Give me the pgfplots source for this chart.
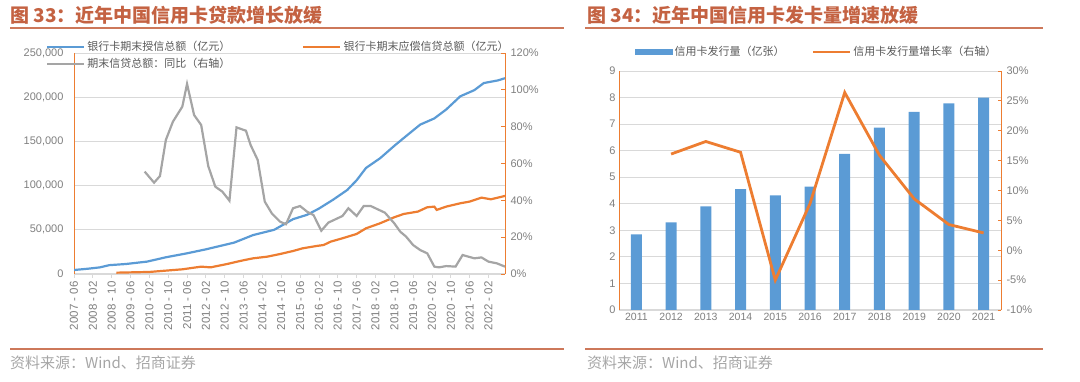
\documentclass[border=0pt]{standalone}
\usepackage{fontspec}
\setmainfont{Liberation Sans}
\newfontfamily\cjk{Noto Sans CJK SC}
\usepackage{pgfplots}
\pgfplotsset{compat=1.18}
\definecolor{cblue}{RGB}{91,155,213}
\definecolor{corange}{RGB}{237,125,49}
\definecolor{cgray}{RGB}{165,165,165}
\definecolor{titlecol}{RGB}{196,98,66}
\definecolor{rulecol}{RGB}{205,120,90}
\definecolor{tickcol}{RGB}{127,127,127}
\definecolor{legcol}{RGB}{89,89,89}
\definecolor{gridcol}{RGB}{217,217,217}
\definecolor{srccol}{RGB}{166,166,166}
\begin{document}
\begin{tikzpicture}
\path[use as bounding box] (0pt,0pt) rectangle (1080pt,382pt);
% titles and rules
\node[anchor=west, inner sep=0, text=titlecol, font=\fontsize{19}{22}\selectfont\cjk\bfseries] at (10pt,367pt) {图 33：近年中国信用卡贷款增长放缓};
\node[anchor=west, inner sep=0, text=titlecol, font=\fontsize{19}{22}\selectfont\cjk\bfseries] at (587pt,367pt) {图 34：近年中国信用卡发卡量增速放缓};
\draw[rulecol, line width=2pt] (10pt,354pt) -- (564pt,354pt);
\draw[rulecol, line width=2pt] (585pt,354pt) -- (1043pt,354pt);
\draw[rulecol, line width=1.5pt] (10pt,33pt) -- (564pt,33pt);
\draw[rulecol, line width=1.5pt] (585pt,33pt) -- (1043pt,33pt);
\node[anchor=west, inner sep=0, text=srccol, font=\fontsize{15}{18}\selectfont\cjk] at (10pt,19.5pt) {资料来源：Wind、招商证券};
\node[anchor=west, inner sep=0, text=srccol, font=\fontsize{15}{18}\selectfont\cjk] at (587pt,19.5pt) {资料来源：Wind、招商证券};

\pgfplotsset{
  every axis/.append style={
    scale only axis,
    /pgf/number format/assume math mode=true,
    tick label style={font=\fontsize{11}{13}\selectfont, text=tickcol},
  },
}

% ===== left chart =====
\begin{axis}[
  at={(74pt,108pt)}, anchor=south west, width=431pt, height=221pt,
  xmin=0, xmax=183, ymin=0, ymax=250000,
  axis x line*=bottom, axis y line*=left,
  x axis line style={draw=gridcol, line width=1pt, -},
  y axis line style={draw=corange, line width=1pt, -},
  xtick={0,8,...,176},
  xticklabels={2007 - 06,2008 - 02,2008 - 10,2009 - 06,2010 - 02,2010 - 10,2011 - 06,2012 - 02,2012 - 10,2013 - 06,2014 - 02,2014 - 10,2015 - 06,2016 - 02,2016 - 10,2017 - 06,2018 - 02,2018 - 10,2019 - 06,2020 - 02,2020 - 10,2021 - 06,2022 - 02},
  xticklabel style={rotate=90, anchor=east, font=\fontsize{11.5}{13}\selectfont},
  xtick style={draw=gridcol, line width=0.8pt},
  tick align=outside, major tick length=4pt,
  ytick={0,50000,...,250000},
  ytick style={draw=none},
  scaled y ticks=false,
  yticklabel style={/pgf/number format/fixed, /pgf/number format/1000 sep={,}, xshift=-3pt},
  ymajorgrids, major grid style={draw=gridcol, line width=0.8pt},
]
\addplot[cblue, line width=2.2pt] coordinates {
(0,4500) (6,6000) (11,7500) (15,10000) (22,11300) (31,14000) (39,18900) (48,23400)
(56,27900) (62,31700) (68,35500) (76,44000) (85,50000) (93,62000) (99,67000) (104,74000)
(110,84000) (116,95000) (120,106000) (124,120000) (130,131000) (136,145000) (141,156000)
(147,169000) (153,176000) (158,186000) (164,201000) (170,208000) (174,216000) (180,219000) (183,221500)};
\addplot[corange, line width=2.2pt] coordinates {
(18,1500) (32,2300) (39,3800) (46,5300) (54,8300) (58,7500) (65,11300) (71,15000)
(76,17700) (82,19600) (87,22300) (93,26000) (97,29000) (103,31700) (106,32800) (109,36600)
(114,40400) (120,45300) (124,51700) (130,57400) (136,64200) (140,67900) (146,70600)
(150,75500) (153,76200) (154,72500) (158,76200) (164,80000) (168,81900) (173,86400) (177,84500) (183,88300)};
\end{axis}
\begin{axis}[
  at={(74pt,108pt)}, anchor=south west, width=431pt, height=221pt,
  xmin=0, xmax=183, ymin=0, ymax=120,
  axis x line=none, axis y line*=right,
  y axis line style={draw=corange, line width=1pt, -},
  ytick={0,20,...,120},
  yticklabel={\pgfmathprintnumber{\tick}\%},
  ytick style={draw=corange, line width=0.8pt},
  tick align=inside, major tick length=4pt,
  yticklabel style={xshift=2pt},
  legend style={at={(axis description cs:-0.065,1.063)}, anchor=north west, draw=none, fill=none,
    font=\fontsize{11}{13}\selectfont\cjk, text=legcol, inner sep=0pt,
    /tikz/every even column/.append style={column sep=70pt}, row sep=2pt},
  legend columns=2, legend cell align=left,
  legend image code/.code={\draw[#1] (0pt,0pt) -- (37pt,0pt);},
]
\addlegendimage{cblue, line width=2.2pt}
\addlegendentry{银行卡期末授信总额（亿元）}
\addlegendimage{corange, line width=2.2pt}
\addlegendentry{银行卡期末应偿信贷总额（亿元）}
\addplot[cgray, line width=2.2pt] coordinates {
(30,55.6) (34,49.6) (36.5,53.2) (39,72.8) (42,82.7) (46,90.9) (48,103.2) (51,86.3)
(54,80.9) (57,58.6) (60,47.4) (63,44.7) (66,39.8) (69,79.6) (73,77.8) (75,70) (78,61.9)
(81,39.3) (84,32.9) (87.5,28.4) (90,27) (93,35.7) (96,36.9) (99,33.8) (101.7,32) (105,23.5)
(108,27.9) (111,29.7) (114,31.5) (116.5,35.7) (120,31.5) (123,36.9) (126,36.9) (129,35.1)
(132,33.3) (136,27.5) (138.5,23) (141,20.3) (144,15.7) (147,13) (150,11.2) (153,4) (155,3.6)
(158,4.3) (162,4) (165,10.3) (167.5,9.4) (170,8.5) (173,9) (176,6.7) (179.5,5.8) (183,4)};
\addlegendentry{期末信贷总额：同比（右轴）}
\end{axis}

% ===== right chart =====
\begin{axis}[
  at={(619pt,72pt)}, anchor=south west, width=382pt, height=239pt,
  xmin=-0.5, xmax=10.5, ymin=0, ymax=9,
  axis x line*=bottom, axis y line*=left,
  x axis line style={draw=gridcol, line width=1pt, -},
  y axis line style={draw=corange, line width=1pt, -},
  xtick={0,...,10},
  xticklabels={2011,2012,2013,2014,2015,2016,2017,2018,2019,2020,2021},
  xticklabel style={font=\fontsize{10.5}{12}\selectfont},
  ytick={0,...,9},
  tick style={draw=none},
  ymajorgrids, major grid style={draw=gridcol, line width=0.8pt},
]
\addplot[ybar, bar width=11pt, fill=cblue, draw=none] coordinates {
(0,2.85) (1,3.3) (2,3.9) (3,4.55) (4,4.32) (5,4.65) (6,5.88) (7,6.87) (8,7.46) (9,7.78) (10,8.0)};
\end{axis}
\begin{axis}[
  at={(619pt,72pt)}, anchor=south west, width=382pt, height=239pt,
  xmin=-0.5, xmax=10.5, ymin=-10, ymax=30,
  axis x line=none, axis y line*=right,
  y axis line style={draw=corange, line width=1pt, -},
  ytick={-10,-5,...,30},
  yticklabel={\pgfmathprintnumber{\tick}\%},
  ytick style={draw=corange, line width=0.8pt},
  tick align=inside, major tick length=3pt,
  yticklabel style={xshift=2pt},
  legend style={at={(axis description cs:0.042,1.0795)}, anchor=west, draw=none, fill=none,
    font=\fontsize{11}{13}\selectfont\cjk, text=legcol, inner sep=0pt,
    /tikz/every even column/.append style={column sep=25pt}},
  legend columns=2, legend cell align=left,
  legend image code/.code={\draw[#1] (0pt,0pt) -- (37pt,0pt);},
]
\addlegendimage{legend image code/.code={\fill[cblue] (0pt,-2.5pt) rectangle (37pt,2.5pt);}}
\addlegendentry{信用卡发行量（亿张）}
\addplot[corange, line width=2.8pt] coordinates {
(1,16.1) (2,18.2) (3,16.4) (4,-5.0) (5,7.8) (6,26.4) (7,15.9) (8,8.6) (9,4.3) (10,2.9)};
\addlegendentry{信用卡发行量增长率（右轴）}
\end{axis}
\end{tikzpicture}
\end{document}
